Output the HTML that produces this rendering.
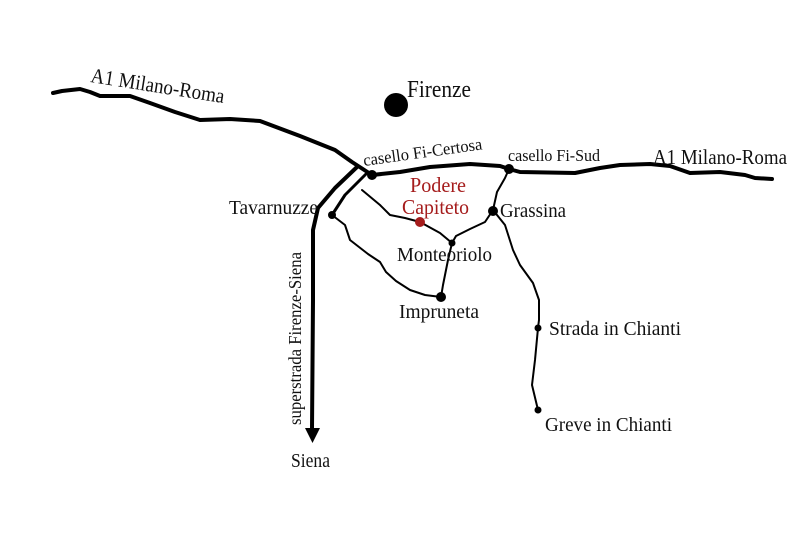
<!DOCTYPE html>
<html><head><meta charset="utf-8"><style>
html,body{margin:0;padding:0;background:#fff;}
svg{display:block;}
text{font-family:"Liberation Serif",serif;fill:#111;}
</style></head><body>
<svg width="800" height="559" viewBox="0 0 800 559" xmlns="http://www.w3.org/2000/svg">
<g fill="none" stroke="#000" stroke-linejoin="round" stroke-linecap="round">
<path stroke-width="4" d="M53,93 L62,91 L80,89 L90,92 L100,96 L130,96 L150,103 L175,112 L200,120 L230,119 L260,121 L300,136 L335,150 L352,162 L372,175 L400,172 L430,167 L470,164 L500,166 L509,169 L520,172 L575,173 L600,168 L620,165 L650,164 L670,166 L690,173 L720,172 L745,175 L755,178 L772,179"/>
<path stroke-width="4" d="M357,167 L335,188 L318,208 L313,230 L313,300 L312,430"/>
<path stroke-width="3" d="M366,174 L345,195 L332,215"/>
<path stroke-width="2" d="M332,215 L345,225 L350,240 L368,254 L380,262 L386,272 L396,281 L410,290 L425,295 L441,297"/>
<path stroke-width="2" d="M362,190 L380,205 L390,215 L405,218 L420,222 L440,233 L452,243"/>
<path stroke-width="2" d="M452,243 L448,260 L443,285 L441,297"/>
<path stroke-width="2" d="M452,243 L456,236 L470,229 L485,222 L493,210"/>
<path stroke-width="2" d="M493,210 L497,192 L505,178 L509,169"/>
<path stroke-width="2" d="M493,210 L505,225 L513,250 L520,265 L533,283 L539,300 L539,320 L538,328 L535,360 L532,385 L538,410"/>
</g>
<polygon points="305,428 320,428 312.5,443" fill="#000"/>
<circle cx="396" cy="105" r="12" fill="#000"/>
<circle cx="372" cy="175" r="5" fill="#000"/>
<circle cx="509" cy="169" r="5" fill="#000"/>
<circle cx="493" cy="211" r="5" fill="#000"/>
<circle cx="332" cy="215" r="4" fill="#000"/>
<circle cx="452" cy="243" r="3.5" fill="#000"/>
<circle cx="441" cy="297" r="5" fill="#000"/>
<circle cx="538" cy="328" r="3.5" fill="#000"/>
<circle cx="538" cy="410" r="3.5" fill="#000"/>
<circle cx="420" cy="222" r="5" fill="#a51c1c"/>
<text x="90" y="82" font-size="21" textLength="135" lengthAdjust="spacingAndGlyphs" transform="rotate(9 90 82)">A1 Milano-Roma</text>
<text x="407" y="97" font-size="24" textLength="64" lengthAdjust="spacingAndGlyphs">Firenze</text>
<text x="364" y="166" font-size="17" textLength="120" lengthAdjust="spacingAndGlyphs" transform="rotate(-8 364 166)">casello Fi-Certosa</text>
<text x="508" y="161" font-size="17" textLength="92" lengthAdjust="spacingAndGlyphs">casello Fi-Sud</text>
<text x="653" y="164" font-size="21" textLength="134" lengthAdjust="spacingAndGlyphs">A1 Milano-Roma</text>
<text x="410" y="192" font-size="21" textLength="56" lengthAdjust="spacingAndGlyphs" style="fill:#a51c1c">Podere</text>
<text x="402" y="214" font-size="21" textLength="67" lengthAdjust="spacingAndGlyphs" style="fill:#a51c1c">Capiteto</text>
<text x="229" y="214" font-size="20" textLength="89" lengthAdjust="spacingAndGlyphs">Tavarnuzze</text>
<text x="500" y="217" font-size="20" textLength="66" lengthAdjust="spacingAndGlyphs">Grassina</text>
<text x="397" y="261" font-size="20" textLength="95" lengthAdjust="spacingAndGlyphs">Monteoriolo</text>
<text x="399" y="318" font-size="20" textLength="80" lengthAdjust="spacingAndGlyphs">Impruneta</text>
<text x="549" y="335" font-size="20" textLength="132" lengthAdjust="spacingAndGlyphs">Strada in Chianti</text>
<text x="545" y="431" font-size="20" textLength="127" lengthAdjust="spacingAndGlyphs">Greve in Chianti</text>
<text x="291" y="467" font-size="20" textLength="39" lengthAdjust="spacingAndGlyphs">Siena</text>
<text x="301" y="425" font-size="18" textLength="173" lengthAdjust="spacingAndGlyphs" transform="rotate(-90 301 425)">superstrada Firenze-Siena</text>
</svg>
</body></html>
